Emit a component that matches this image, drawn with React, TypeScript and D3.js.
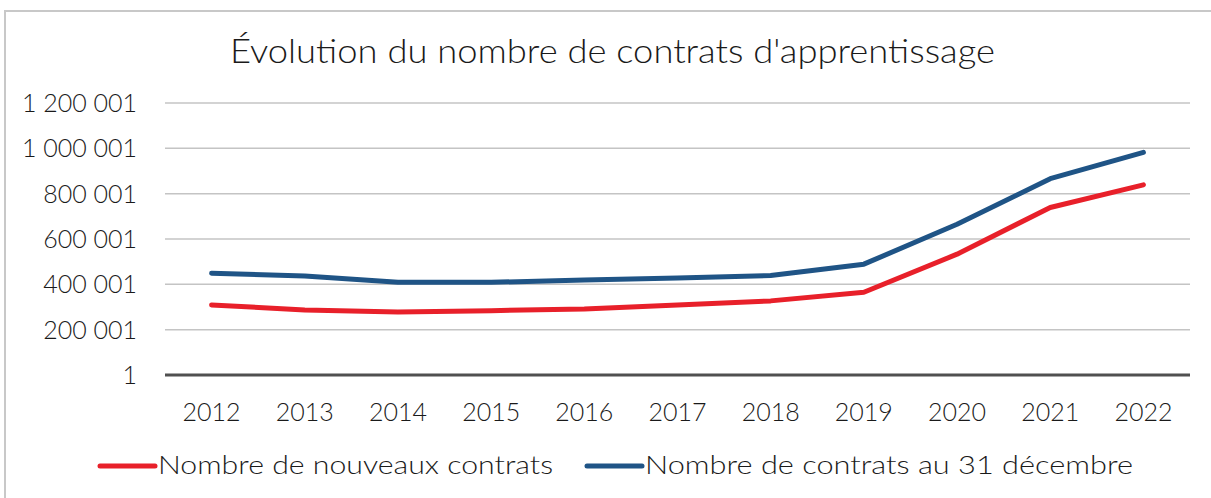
import React from "react";
import * as d3 from "d3";

const years = ["2012", "2013", "2014", "2015", "2016", "2017", "2018", "2019", "2020", "2021", "2022"];
const nouveaux = [309000, 287000, 278000, 284000, 291000, 309000, 327000, 365000, 533000, 739000, 839000];
const auDecembre = [449000, 437000, 409000, 409000, 419000, 428000, 439000, 489000, 665000, 866000, 982000];
const yTicks = [1, 200001, 400001, 600001, 800001, 1000001, 1200001];
const title = "Évolution du nombre de contrats d'apprentissage";
const seriesNames = ["Nombre de nouveaux contrats", "Nombre de contrats au 31 décembre"];
const colors = ["#e8202a", "#1f5486"];

const W = 1211;
const H = 498;
const FONT = "Lato, 'Noto Sans', sans-serif";

export default function App() {
  const left = 165, right = 1190, top = 103, bottom = 375;
  const x = d3.scaleBand<string>().domain(years).range([left, right]);
  const y = d3.scaleLinear().domain([1, 1200001]).range([bottom, top]);
  const fmt = (v: number) => d3.format(",")(v).replace(/,/g, " ");
  const line = d3
    .line<number>()
    .x((_, i) => (x(years[i]) as number) + x.bandwidth() / 2)
    .y((d) => y(d));
  const series = [nouveaux, auDecembre];
  const legendLens = [395, 488];
  return (
    <svg width={W} height={H} style={{ position: "absolute", left: 0, top: 0, background: "#fff" }} fontFamily={FONT} fontWeight={300}>
      <rect x={0} y={0} width={W} height={H} fill="#fff" />
      <path d={`M5,${H + 5} V11 H${W + 5}`} fill="none" stroke="#c8c8c8" strokeWidth={2} />
      <text x={230} y={63} fontSize={34} fill="#1a1a1a" textLength={765} lengthAdjust="spacingAndGlyphs">{title}</text>
      {yTicks.map((t) =>
        t === 1 ? null : (
          <line key={t} x1={left} x2={right} y1={y(t)} y2={y(t)} stroke="#c4c4c4" strokeWidth={1.5} />
        )
      )}
      {yTicks.map((t) => (
        <text key={"l" + t} x={137} y={y(t) + 9} textAnchor="end" fontSize={25} fill="#1a1a1a">{fmt(t)}</text>
      ))}
      <line x1={left} x2={right} y1={y(1)} y2={y(1)} stroke="#505050" strokeWidth={3} />
      {years.map((yr) => (
        <text key={yr} x={(x(yr) as number) + x.bandwidth() / 2} y={421} textAnchor="middle" fontSize={25} fill="#1a1a1a">{yr}</text>
      ))}
      {series.map((s, i) => (
        <path key={i} d={line(s) || ""} fill="none" stroke={colors[i]} strokeWidth={5} strokeLinecap="round" strokeLinejoin="round" />
      ))}
      {[100, 587].map((lx, i) => (
        <g key={i}>
          <line x1={lx} x2={lx + 55} y1={466} y2={466} stroke={colors[i]} strokeWidth={5} strokeLinecap="round" />
          <text x={lx + 58} y={474} fontSize={25} fill="#1a1a1a" textLength={legendLens[i]} lengthAdjust="spacingAndGlyphs">{seriesNames[i]}</text>
        </g>
      ))}
    </svg>
  );
}
